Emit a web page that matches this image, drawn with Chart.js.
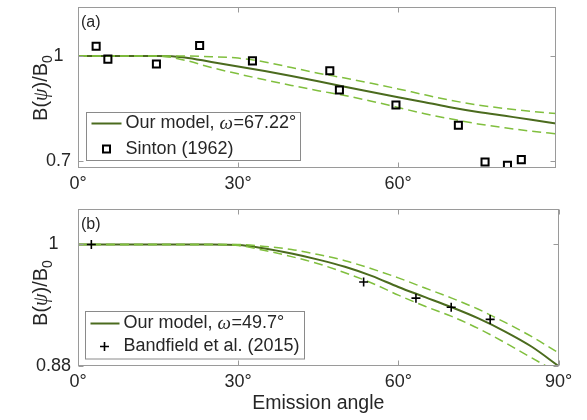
<!DOCTYPE html>
<html><head><meta charset="utf-8">
<script src="https://cdn.jsdelivr.net/npm/chart.js@4"></script>
<style>
html,body{margin:0;padding:0;background:#fff;width:587px;height:420px;overflow:hidden}
canvas{position:absolute;left:0}
#ca{top:0}
#cb{top:200px}
</style></head><body>
<canvas id="ca" width="587" height="200"></canvas>
<canvas id="cb" width="587" height="220"></canvas>
<script>
// ---- data ----
const angles = [0,5,10,15,20,25,30,35,40,45,50,55,60,65,70,75,80,85,90];
const modelA = [1,1,1,1,0.996,0.983,0.970,0.957,0.943,0.928,0.912,0.897,0.882,0.868,0.853,0.840,0.829,0.818,0.806];
const upperA = [1,1,1,1,1,0.998,0.994,0.983,0.967,0.951,0.937,0.922,0.906,0.889,0.873,0.860,0.850,0.842,0.835];
const lowerA = [1,1,1,1,0.988,0.967,0.949,0.932,0.916,0.901,0.887,0.871,0.853,0.835,0.820,0.806,0.795,0.785,0.777];
const modelB = [1,1,1,1,1,1,0.9995,0.996,0.991,0.985,0.978,0.969,0.958,0.948,0.938,0.927,0.914,0.899,0.880];
const upperB = [1,1,1,1,1,1,1,0.998,0.995,0.990,0.984,0.976,0.967,0.957,0.947,0.936,0.923,0.909,0.893];
const lowerB = [1,1,1,1,1,1,0.999,0.994,0.988,0.981,0.972,0.962,0.950,0.939,0.929,0.917,0.903,0.888,0.873];
const sintonAngle = [3.4,5.6,14.7,22.8,32.7,47.2,49.0,59.6,71.3,76.3,80.5,83.1];
const sintonB = [1.028,0.991,0.977,1.030,0.986,0.958,0.903,0.860,0.802,0.697,0.688,0.704];
const bandAngle = [2.5,53.5,63.3,69.9,77.2];
const bandB = [1.000,0.963,0.947,0.938,0.926];
const xTicksA = [0,30,60];
const xTicksB = [0,30,60,90];
const yTicksA = [0.7,1];
const yTickLabelsA = ['0.7','1'];
const yTicksB = [0.88,1];
const yTickLabelsB = ['0.88','1'];
const legendA = ['Our model, ', 'ω', '=67.22°', 'Sinton (1962)'];
const legendB = ['Our model, ', 'ω', '=49.7°', 'Bandfield et al. (2015)'];

const FONT = "'Liberation Sans', Arial, Helvetica, sans-serif";
const SERIF = "'Liberation Serif', 'Times New Roman', serif";
const TXT = '#262626';
const FRAME = '#9a9a9a';
const DARK = '#4b6b1e';
const LIGHT = '#80bf3e';

function pts(xs, ys){ return xs.map((x,i)=>({x:x, y:ys[i]})); }

function lineDs(ys, color, width, dash){
  return {data: pts(angles, ys), showLine:true, borderColor:color, borderWidth:width,
    borderDash:dash, pointRadius:0, pointHoverRadius:0, tension:0.4,
    cubicInterpolationMode:'monotone', fill:false};
}

const framePlugin = {
  id:'frame',
  afterDatasetsDraw(chart, args, opts){
    const {ctx, chartArea:a, scales} = chart;
    ctx.save();
    ctx.strokeStyle = FRAME; ctx.lineWidth = 1;
    const L = Math.round(a.left)+0.5, R = Math.round(a.right)-0.5,
          T = Math.round(a.top)+0.5, B = Math.round(a.bottom)-0.5;
    ctx.strokeRect(L, T, R-L, B-T);
    ctx.beginPath();
    scales.x.ticks.forEach(t=>{
      const px = Math.round(scales.x.getPixelForValue(t.value))+0.5;
      ctx.moveTo(px,B); ctx.lineTo(px,B-5);
      ctx.moveTo(px,T); ctx.lineTo(px,T+5);
    });
    scales.y.ticks.forEach(t=>{
      const py = Math.round(scales.y.getPixelForValue(t.value))+0.5;
      ctx.moveTo(L,py); ctx.lineTo(L+5,py);
      ctx.moveTo(R,py); ctx.lineTo(R-5,py);
    });
    ctx.stroke();
    // panel letter
    ctx.fillStyle = TXT; ctx.font = '16px '+FONT; ctx.textBaseline='middle'; ctx.textAlign='left';
    ctx.fillText(opts.letter, a.left+3, a.top+16);
    // legend
    const lg = opts.legend;
    const x0 = Math.round(a.left+lg.dx)+0.5, y0 = Math.round(a.top+lg.dy)+0.5;
    ctx.fillStyle='#fff'; ctx.fillRect(x0,y0,lg.w,lg.h);
    ctx.strokeStyle='#8a8a8a'; ctx.strokeRect(x0,y0,lg.w,lg.h);
    const r1 = y0+lg.r1, r2 = y0+lg.r2;
    ctx.strokeStyle = DARK; ctx.lineWidth = 2; ctx.setLineDash([]);
    ctx.beginPath(); ctx.moveTo(x0+5, r1); ctx.lineTo(x0+lg.lineEnd, r1); ctx.stroke();
    ctx.strokeStyle = '#000'; ctx.lineWidth = lg.marker==='rect'?2:1.6;
    const mx = x0+lg.mx;
    ctx.beginPath();
    if (lg.marker==='rect'){ ctx.rect(mx-3.5, r2-3.5, 7, 7); }
    else { ctx.moveTo(mx-4.5,r2); ctx.lineTo(mx+4.5,r2); ctx.moveTo(mx,r2-4.5); ctx.lineTo(mx,r2+4.5); }
    ctx.stroke();
    ctx.fillStyle = TXT; ctx.textBaseline='middle';
    let tx = x0+lg.tx;
    const t = lg.text;
    ctx.font = '18px '+FONT; ctx.fillText(t[0], tx, r1); tx += ctx.measureText(t[0]).width;
    ctx.font = 'italic 19px '+SERIF; ctx.fillText(t[1], tx, r1); tx += ctx.measureText(t[1]).width + 0.5;
    ctx.font = '18px '+FONT; ctx.fillText(t[2], tx, r1);
    ctx.fillText(t[3], x0+lg.tx, r2);
    // y title  B(ψ)/B0
    ctx.save();
    ctx.translate(opts.ytx, a.top + opts.ytyOff);
    ctx.rotate(-Math.PI/2);
    ctx.textBaseline='alphabetic'; ctx.textAlign='left';
    const parts = [['B(', '20px '+FONT, 0], ['ψ', 'italic 20px '+SERIF, 0], [')/B', '20px '+FONT, 0], ['0', '14px '+FONT, 5]];
    let total = 0;
    parts.forEach(p=>{ ctx.font=p[1]; total += ctx.measureText(p[0]).width; });
    let cx = -total/2;
    parts.forEach(p=>{ ctx.font=p[1]; ctx.fillText(p[0], cx, p[2]); cx += ctx.measureText(p[0]).width; });
    ctx.restore();
    if (opts.xtitle){
      ctx.font = '19.5px '+FONT; ctx.textAlign='center'; ctx.textBaseline='middle'; ctx.fillStyle=TXT;
      ctx.fillText(opts.xtitle, (a.left+a.right)/2, a.bottom+38);
    }
    ctx.restore();
  }
};

function makeChart(id, cfg){
  return new Chart(document.getElementById(id), {
    type:'scatter',
    data:{datasets: cfg.datasets},
    options:{
      responsive:false, animation:false, devicePixelRatio:1,
      layout:{padding:{top:cfg.padTop, right:cfg.padRight, left:0, bottom:0}},
      plugins:{legend:{display:false}, tooltip:{enabled:false}, frame:cfg.frame},
      scales:{
        x:{type:'linear', min:0, max:cfg.xmax,
          afterBuildTicks:s=>{ s.ticks = cfg.xticks.map(v=>({value:v})); },
          afterFit:s=>{ s.height = cfg.xh; s.paddingLeft = 0; s.paddingRight = 0; },
          grid:{display:false, drawTicks:false}, border:{display:false},
          ticks:{padding:5, color:TXT, font:{family:FONT, size:18}, maxRotation:0, autoSkip:false,
            callback:(v)=>v+'°'}},
        y:{type:'linear', min:cfg.ymin, max:cfg.ymax,
          afterBuildTicks:s=>{ s.ticks = cfg.yticks.map(v=>({value:v})); },
          afterFit:s=>{ s.width = 78; s.paddingTop = 0; s.paddingBottom = 0; },
          grid:{display:false, drawTicks:false}, border:{display:false},
          ticks:{padding:7, crossAlign:'center', color:TXT, font:{family:FONT, size:18}, autoSkip:false,
            callback:(v,i)=>cfg.ylabels[i]}}
      }
    },
    plugins:[framePlugin]
  });
}

makeChart('ca', {
  padTop:7, padRight:31, xh:32, xmax:89.6, ymin:0.68, ymax:1.14,
  xticks:xTicksA, yticks:yTicksA, ylabels:yTickLabelsA,
  datasets:[
    {data:pts(sintonAngle, sintonB), showLine:false, pointStyle:'rect', pointRadius:5,
      pointBorderColor:'#000', pointBackgroundColor:'rgba(0,0,0,0)', pointBorderWidth:2},
    lineDs(upperA, LIGHT, 1.5, [9,5]),
    lineDs(lowerA, LIGHT, 1.5, [9,5]),
    lineDs(modelA, DARK, 2, [])
  ],
  frame:{letter:'(a)', ytx:47, ytyOff:81,
    legend:{dx:8, dy:105, w:214, h:48, r1:11, r2:36.5, lineEnd:35, mx:20, tx:39, marker:'rect', text:legendA}}
});

makeChart('cb', {
  padTop:9, padRight:28.5, xh:54, xmax:90, ymin:0.88, ymax:1.035,
  xticks:xTicksB, yticks:yTicksB, ylabels:yTickLabelsB,
  datasets:[
    {data:pts(bandAngle, bandB), showLine:false, pointStyle:'cross', pointRadius:4.5,
      pointBorderColor:'#000', pointBorderWidth:1.6},
    lineDs(upperB, LIGHT, 1.5, [9,5]),
    lineDs(lowerB, LIGHT, 1.5, [9,5]),
    lineDs(modelB, DARK, 2, [])
  ],
  frame:{letter:'(b)', ytx:47, ytyOff:84, xtitle:'Emission angle',
    legend:{dx:6.5, dy:101.5, w:219, h:47.5, r1:12, r2:35, lineEnd:34, mx:19, tx:38, marker:'cross', text:legendB}}
});
</script>
</body></html>
